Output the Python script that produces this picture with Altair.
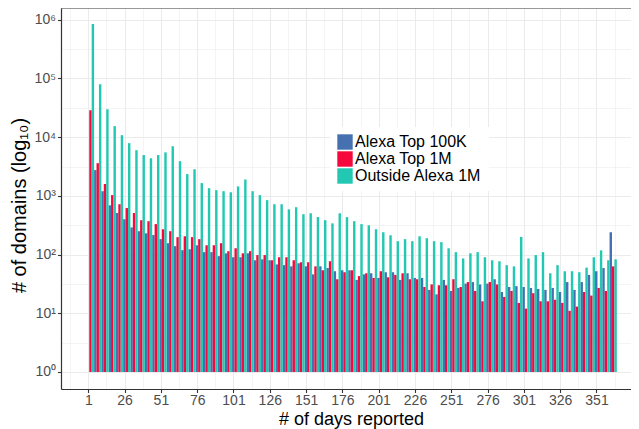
import altair as alt
import pandas as pd

# ---- data ----
series = ["Alexa Top 100K", "Alexa Top 1M", "Outside Alexa 1M"]
colors = ["#4671B0", "#F5083B", "#22C8B1"]

# start day of each five-day bin (73 bins)
bin_start = list(range(0, 365, 5))

top100k = [None, 2750, 1200, 690, 510, 400, 290, 250, 230, 215,
           183, 156, 139, 119, 123, 144, 110, 110, 94, 105,
           90, 90, 105, 80, 83, 80, 68, 66, 63, 71,
           63, 46, 63, 59, 52, 54, 54, 37, 46, 48,
           40, 50, 50, 37, 48, 40, 40, 25, 21, 37,
           24, 27, 32, 34, 31, 32, 38, 23, 28, 29,
           28, 27, 26, 25, 27, 23, 34, 25, 34, 45,
           52, 59, 240]

top1m = [28800, 3600, 1585, 1030, 720, 620, 510, 385, 370, 330,
         270, 250, 198, 205, 198, 183, 144, 144, 156, 114,
         128, 105, 114, 98, 98, 80, 90, 90, 80, 74,
         74, 63, 54, 77, 38, 50, 54, 43, 48, 40,
         52, 41, 45, 48, 38, 38, 28, 31, 30, 30,
         38, 28, 34, 24, 16, 34, 31, 19, 24, 15,
         12, 22, 16, 16, 17, 15, 11, 13, 23, 20,
         27, 24, 63]

outside = [850000, 80000, 30000, 15400, 10800, 7900, 6000, 4950, 4370, 4950,
           5500, 7000, 3900, 2350, 2840, 1650, 1350, 1250, 1200, 1150,
           1450, 1900, 1200, 1030, 846, 720, 720, 590, 640, 487,
           505, 435, 385, 340, 505, 435, 370, 330, 315, 270,
           240, 213, 169, 183, 169, 205, 190, 169, 163, 128,
           110, 86, 105, 110, 90, 80, 77, 66, 63, 200,
           86, 98, 110, 48, 66, 52, 52, 50, 60, 90,
           118, 80, 83]

x_major = list(range(1, 352, 25))
x_minor = [v + 12.5 for v in range(-24, 364, 25)]
y_major = [10 ** i for i in range(0, 7)]
y_minor = [10 ** (i + 0.5) for i in range(0, 6)]

# ---- table ----
rows = []
for sidx, (name, vals) in enumerate(zip(series, [top100k, top1m, outside])):
    for b, v in zip(bin_start, vals):
        rows.append({"bin": b, "series": name, "sidx": sidx, "count": v})
df = pd.DataFrame(rows)

FONT = "Liberation Sans"
GRID = "#ebebeb"
INK = "#333333"

x_is_major = "(datum.value % 25 == 1 && datum.value < 360)"
y_log = "(log(datum.value)/LN10)"
y_is_major = f"(abs({y_log} - round({y_log})) < 0.01)"
sup = "['\u2070','\u00b9','\u00b2','\u00b3','\u2074','\u2075','\u2076']"

xaxis = alt.Axis(
    values=x_major + x_minor,
    labelExpr=f"{x_is_major} ? datum.label : ''",
    labelOverlap=False, labelFlush=False,
    labelFont=FONT, labelFontSize=14, labelColor="#4d4d4d", labelPadding=1,
    tickSize=3.5, tickWidth=1.1,
    tickColor={"condition": {"test": x_is_major, "value": INK}, "value": "transparent"},
    gridColor=GRID,
    gridWidth={"condition": {"test": x_is_major, "value": 1.1}, "value": 0.55},
    domainColor=INK, domainWidth=1.2,
    titleFont=FONT, titleFontSize=18, titleFontWeight="normal", titleColor="black",
    titlePadding=3, titleX=290, titleAlign="center",
)

yaxis = alt.Axis(
    values=y_major + y_minor,
    labelExpr=f"{y_is_major} ? '10' + {sup}[round({y_log})] : ''",
    labelOverlap=False, labelFlush=False,
    labelFont=FONT, labelFontSize=14, labelColor="#4d4d4d", labelPadding=2,
    tickSize=3.5, tickWidth=1.1,
    tickColor={"condition": {"test": y_is_major, "value": INK}, "value": "transparent"},
    gridColor=GRID,
    gridWidth={"condition": {"test": y_is_major, "value": 1.1}, "value": 0.55},
    domainColor=INK, domainWidth=1.2,
    titleFont=FONT, titleFontSize=20, titleFontWeight="normal", titleColor="black",
    titlePadding=4, titleY=197, titleAlign="center",
)

bars = (
    alt.Chart(df)
    .transform_filter("isValid(datum.count)")
    .transform_calculate(
        x0="datum.bin + datum.sidx * 5 / 3",
        x1="datum.bin + (datum.sidx + 1) * 5 / 3",
        base="1",
    )
    .mark_bar(strokeWidth=0)
    .encode(
        x=alt.X("x0:Q", title="# of days reported",
                scale=alt.Scale(domain=[-17.8, 374.77], nice=False, zero=False),
                axis=xaxis),
        x2="x1:Q",
        y=alt.Y("count:Q", title="# of domains (log\u2081\u2080)",
                scale=alt.Scale(type="log", domain=[10 ** -0.29, 10 ** 6.2], nice=False),
                axis=yaxis),
        y2="base:Q",
        color=alt.Color(
            "series:N",
            scale=alt.Scale(domain=series, range=colors),
            legend=alt.Legend(
                title=None, orient="none", legendX=269, legendY=119,
                fillColor="white", padding=7,
                symbolType="square", symbolSize=237, symbolStrokeWidth=0,
                symbolOpacity=1,
                labelFont=FONT, labelFontSize=16, labelColor="black",
                rowPadding=1, labelOffset=2, labelLimit=300,
            ),
        ),
    )
)

top_border = (
    alt.Chart(alt.Data(values=[{}]))
    .mark_rule(color=INK, strokeWidth=1.2)
    .encode(y=alt.value(0))
)

chart = (
    alt.layer(bars, top_border)
    .properties(
        width=570, height=381,
        autosize=alt.AutoSizeParams(type="none"),
        padding={"left": 53, "top": 0, "right": 0, "bottom": 40},
        background="white",
    )
    .configure_view(stroke=None)
)

chart.save("out.html", embed_options={"renderer": "svg", "actions": False})
